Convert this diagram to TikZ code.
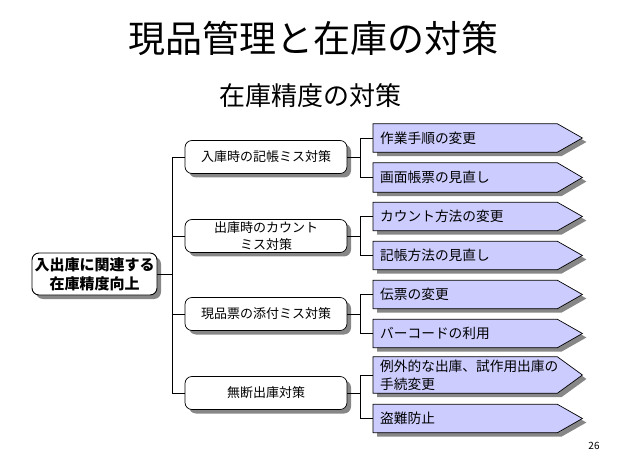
\documentclass[tikz,border=0pt]{standalone}
\usepackage{fontspec}
\setmainfont{Noto Sans CJK JP}
\usetikzlibrary{calc}
\definecolor{leaffill}{RGB}{204,204,255}
\definecolor{shadowc}{RGB}{135,135,135}
\tikzset{
  shadowed/.style={preaction={fill=shadowc, draw=none, transform canvas={shift={(4pt,-4pt)}}}},
  rootbox/.style={draw=black, line width=0.9pt, fill=white, rounded corners=7pt, shadowed,
     minimum width=125pt, minimum height=42pt, align=center, inner sep=2pt,
     font=\fontsize{15}{19}\selectfont\bfseries},
  catbox/.style={draw=black, line width=0.7pt, fill=white, rounded corners=7pt, shadowed,
     minimum width=162pt, minimum height=33pt, align=center, inner sep=2pt,
     font=\fontsize{13}{17}\selectfont},
  leafn/.style={anchor=west, minimum width=184pt, text width=170pt, inner xsep=7pt, inner ysep=1pt,
     align=left, font=\fontsize{13.7}{18}\selectfont},
  conn/.style={line width=0.7pt, draw=black},
  leafshape/.style={draw=black, line width=0.7pt, fill=leaffill, shadowed},
}
\newcommand\leafarrow[1]{%
  \path[leafshape] (#1.north west) -- (#1.north east) -- ($(#1.east)+(25,0)$) -- (#1.south east) -- (#1.south west) -- cycle;}
\begin{document}
\begin{tikzpicture}[x=1pt,y=-1pt]
\useasboundingbox (0,0) rectangle (626,454);
\node (title) at (313,38) {\fontsize{37}{40}\selectfont 現品管理と在庫の対策};
\node (sub) at (310,96) {\fontsize{26}{28}\selectfont 在庫精度の対策};
\node (pg) at (594,446) {\fontsize{10}{12}\selectfont 26};

\node[rootbox] (root) at (94.5,274) {入出庫に関連する\\在庫精度向上};

\node[catbox] (c1) at (266,157) {入庫時の記帳ミス対策};
\node[catbox] (c2) at (266,236) {出庫時のカウント\\ミス対策};
\node[catbox] (c3) at (266,314) {現品票の添付ミス対策};
\node[catbox] (c4) at (266,393) {無断出庫対策};

% leaves (text nodes, shapes drawn behind)
\begin{scope}[every node/.style={leafn}]
\node[minimum height=28pt] (l1) at (373,138) {\phantom{x}};
\node[minimum height=29pt] (l2) at (373,177.5) {\phantom{x}};
\node[minimum height=28pt] (l3) at (373,216.5) {\phantom{x}};
\node[minimum height=28pt] (l4) at (373,255.5) {\phantom{x}};
\node[minimum height=28pt] (l5) at (373,294.5) {\phantom{x}};
\node[minimum height=28pt] (l6) at (373,333.5) {\phantom{x}};
\node[minimum height=36pt] (l7) at (373,375) {\phantom{x}};
\node[minimum height=28pt] (l8) at (373,418.5) {\phantom{x}};
\end{scope}
\foreach \n in {l1,l2,l3,l4,l5,l6,l7,l8}{\leafarrow{\n}}
\begin{scope}[every node/.style={leafn}]
\node at (l1.west) {作業手順の変更};
\node at (l2.west) {画面帳票の見直し};
\node at (l3.west) {カウント方法の変更};
\node at (l4.west) {記帳方法の見直し};
\node at (l5.west) {伝票の変更};
\node at (l6.west) {バーコードの利用};
\node at (l7.west) {例外的な出庫、試作用出庫の\\手続変更};
\node at (l8.west) {盗難防止};
\end{scope}

% connectors
\draw[conn] (root.east) -- ++(16,0);
\draw[conn] (c1.west) -- ++(-12,0) |- (c4.west);
\draw[conn] (c2.west) -- ++(-12,0);
\draw[conn] (c3.west) -- ++(-12,0);
\foreach \c/\a/\b in {c1/l1/l2, c2/l3/l4, c3/l5/l6, c4/l7/l8}{
  \draw[conn] (\c.east) -- ++(13,0);
  \draw[conn] (\a.west) -- ++(-13,0) |- (\b.west);
}
\end{tikzpicture}
\end{document}
